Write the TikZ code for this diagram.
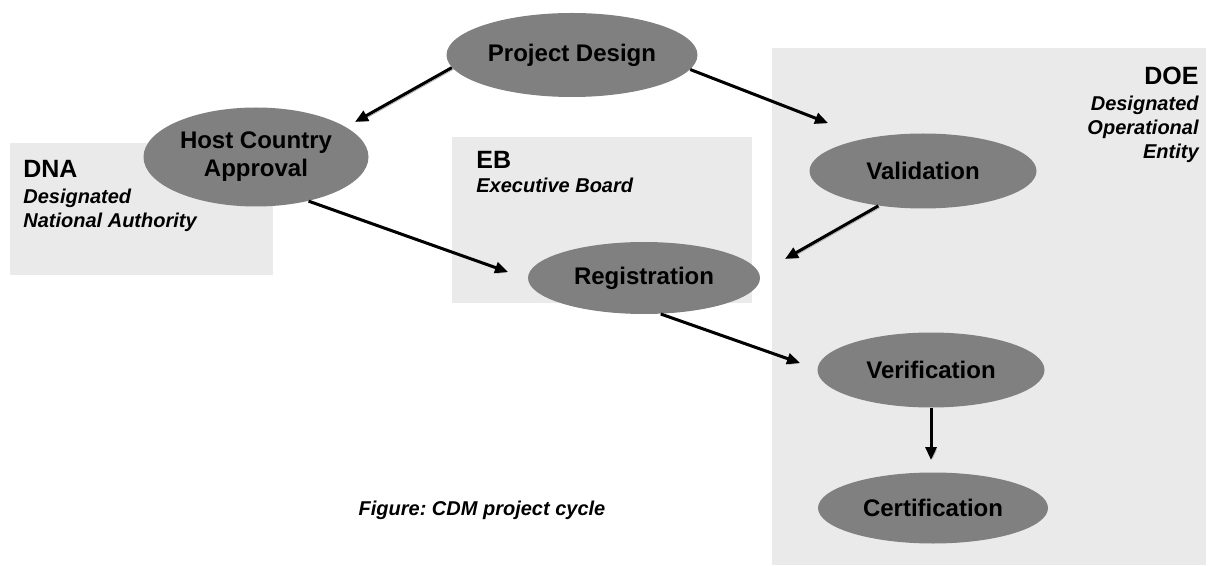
\documentclass[tikz,border=0pt]{standalone}
\usepackage{fontspec}
\setmainfont{Liberation Sans}
\usetikzlibrary{arrows.meta,positioning,shapes.geometric}
\frenchspacing

\begin{document}
\begin{tikzpicture}[x=0.5pt,y=-0.5pt,
  stage/.style={ellipse,fill=stagegray,inner sep=0pt,align=center,
    font=\fontsize{12}{14}\selectfont\bfseries},
  flow/.style={line width=1.5pt,-{Triangle[length=6.5pt,width=5.5pt]},
    preaction={draw=black!30,transform canvas={shift={(0.8pt,-0.8pt)}}}},
  region/.style={fill=regiongray},
  tag/.style={inner sep=0pt,font=\fontsize{12.5}{15}\selectfont\bfseries},
  subtag/.style={inner sep=0pt,font=\fontsize{10}{12}\selectfont\bfseries\itshape}]
\definecolor{stagegray}{HTML}{808080}
\definecolor{regiongray}{HTML}{EAEAEA}

\useasboundingbox (0,0) rectangle (1208,566);

% Responsible bodies
\fill[region] (10,143) rectangle (273,275);
\fill[region] (452,137) rectangle (752,303);
\fill[region] (772,48) rectangle (1206,565);

\node[tag,anchor=base west] (dna) at (23,178) {DNA};
\node[subtag,anchor=north west,align=left] (dnaname) at (23,189) {Designated\\National Authority};
\node[tag,anchor=base west] (eb) at (476,169) {EB};
\node[subtag,anchor=base west] (ebname) at (476,193) {Executive Board};
\node[tag,anchor=base east] (doe) at (1199,85) {DOE};
\node[subtag,anchor=north east,align=right] (doename) at (1199,96) {Designated\\Operational\\Entity};

% Project stages
\node[stage,minimum width=125.5pt,minimum height=42pt] (design) at (572,55) {Project Design};
\node[stage,minimum width=112.5pt,minimum height=49.5pt] (approval) at (256,157) {Host Country\\Approval};
\node[stage,minimum width=113.5pt,minimum height=37.5pt] (validation) at (923,171) {Validation};
\node[stage,minimum width=116pt,minimum height=36pt] (registration) at (644,278) {Registration};
\node[stage,minimum width=113.5pt,minimum height=37.5pt] (verification) at (931,370) {Verification};
\node[stage,minimum width=115pt,minimum height=35.5pt] (certification) at (933,508) {Certification};

% Arrow tips stop short of the next stage
\coordinate (approval-in) at (355,122);
\coordinate (validation-in) at (828,123);
\coordinate (registration-in) at (508,272);
\coordinate (registration-in2) at (785,259);
\coordinate (verification-in) at (800,363);
\coordinate (certification-in) at (931,460);

\draw[flow] (design.186) -- (approval-in);
\draw[flow] (design.353) -- (validation-in);
\draw[flow] (approval.320) -- (registration-in);
\draw[flow] (validation.218) -- (registration-in2);
\draw[flow] (registration.295) -- (verification-in);
\draw[flow] (verification.south) -- (certification-in);

\node[subtag] (caption) at (482,510) {Figure: CDM project cycle};
\end{tikzpicture}
\end{document}
